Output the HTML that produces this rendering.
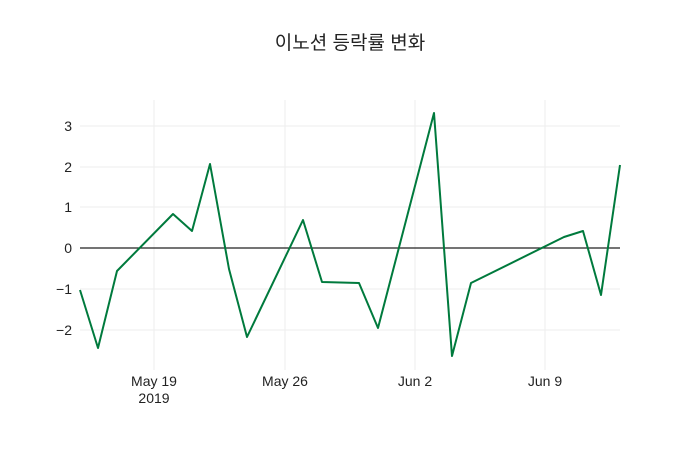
<!DOCTYPE html>
<html><head><meta charset="utf-8"><style>body{margin:0;background:#fff}svg{display:block}</style></head>
<body>
<svg width="700" height="450" xmlns="http://www.w3.org/2000/svg" font-family="'Liberation Sans','Noto Sans CJK KR',sans-serif">
<rect width="700" height="450" fill="#fff"/>
<g stroke="#eee" stroke-width="1">
<line x1="154" y1="100" x2="154" y2="370"/><line x1="285" y1="100" x2="285" y2="370"/>
<line x1="415" y1="100" x2="415" y2="370"/><line x1="545" y1="100" x2="545" y2="370"/>
<line x1="80" y1="126" x2="620" y2="126"/><line x1="80" y1="167" x2="620" y2="167"/>
<line x1="80" y1="207" x2="620" y2="207"/><line x1="80" y1="289" x2="620" y2="289"/>
<line x1="80" y1="330" x2="620" y2="330"/>
</g>
<line x1="80" y1="248" x2="620" y2="248" stroke="#222" stroke-width="1.2"/>
<polyline fill="none" stroke="#007a3d" stroke-width="2" stroke-linejoin="round" points="80,290 98,348 117,271 173,214 192,231 210,164 229,269 247,337 303,220 322,282 359,283 378,328 434,113 452,356 471,283 564,237 583,231 601,295 620,165"/>
<g font-size="14" fill="#222" text-anchor="end">
<text x="72" y="131">3</text><text x="72" y="172">2</text><text x="72" y="212">1</text>
<text x="72" y="253">0</text><text x="72" y="294">−1</text><text x="72" y="335">−2</text>
</g>
<g font-size="14" fill="#222" text-anchor="middle">
<text x="154" y="386">May 19</text><text x="154" y="403">2019</text>
<text x="285" y="386">May 26</text><text x="415" y="386">Jun 2</text><text x="545" y="386">Jun 9</text>
</g>
<text x="350" y="49" font-size="19" fill="#222" text-anchor="middle">이노션 등락률 변화</text>
</svg>
</body></html>
